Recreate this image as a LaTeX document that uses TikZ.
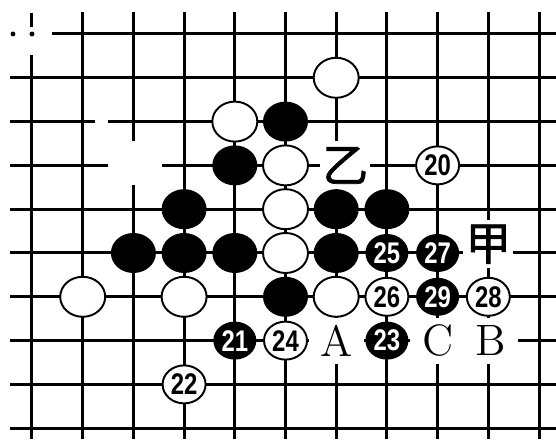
\documentclass[tikz,border=0pt]{standalone}
\usepackage{fontspec}
\newfontfamily\cjk[FakeBold=1.5]{Noto Sans CJK SC}
\newfontfamily\numfont[FakeStretch=0.8]{Liberation Sans}
\usetikzlibrary{shapes.geometric}
\begin{document}
\begin{tikzpicture}[x=5.07mm, y=-4.38mm,
	wstone/.style={ellipse, draw, fill=white, line width=0.55pt, minimum width=4.5mm, minimum height=4mm, inner sep=0pt},
	bstone/.style={ellipse, fill=black, minimum width=4.5mm, minimum height=4mm, inner sep=0pt},
	wnum/.style={wstone, minimum width=4.3mm, minimum height=3.8mm, font=\numfont\bfseries\fontsize{8.5}{8.5}\selectfont},
	bnum/.style={bstone, minimum width=4.3mm, minimum height=3.8mm, text=white, font=\numfont\bfseries\fontsize{8.5}{8.5}\selectfont},
	letter/.style={fill=white, inner sep=0pt, minimum width=5.5mm, minimum height=4.6mm, font=\fontsize{12.5}{12.5}\selectfont},
	hanzi/.style={letter, minimum width=5mm, minimum height=4.8mm, font=\cjk\fontsize{13}{13}\selectfont}]
\useasboundingbox (-0.631,-0.776) rectangle (10.335,9.247);
\begin{scope}[line width=0.85pt]
\draw (0.39,0) -- (10.335,0);
\foreach \y in {1,...,9}
{
	\draw (-0.43,\y) -- (10.335,\y);
}
\draw (0,0.48) -- (0,9.247);
\foreach \x in {1,...,10}
{
	\draw (\x,-0.5) -- (\x,9.247);
}
\draw (0,-0.48) -- (0,-0.16);
\end{scope}
\fill (-0.375,0) circle (0.7pt);
\fill (0,0) circle (0.7pt);
\fill[white] (1.243,1.8) rectangle (1.5,2.15);
\fill[white] (1.5,2.45) rectangle (2.56,3.45);
\node[hanzi] (yi) at (6.18,3) {乙};
\node[hanzi] (jia) at (9,4.8) {甲};
\node[letter] (pa) at (6,7) {A};
\node[letter] (pc) at (8,7) {C};
\node[letter] (pb) at (9.05,7) {B};
\foreach \x/\y in {5/2,4/3,3/4,6/4,7/4,2/5,3/5,4/5,6/5,5/6}
{
	\node[bstone] (b\x\y) at (\x,\y) {};
}
\foreach \x/\y in {6/1,4/2,5/3,5/4,5/5,1/6,3/6,6/6}
{
	\node[wstone] (w\x\y) at (\x,\y) {};
}
\foreach \x/\y/\n in {7/5/25,8/5/27,8/6/29,4/7/21,7/7/23}
{
	\node[bnum] (m\n) at (\x,\y) {\n};
}
\foreach \x/\y/\n in {8/3/20,7/6/26,9/6/28,5/7/24,3/8/22}
{
	\node[wnum] (m\n) at (\x,\y) {\n};
}
\end{tikzpicture}
\end{document}
